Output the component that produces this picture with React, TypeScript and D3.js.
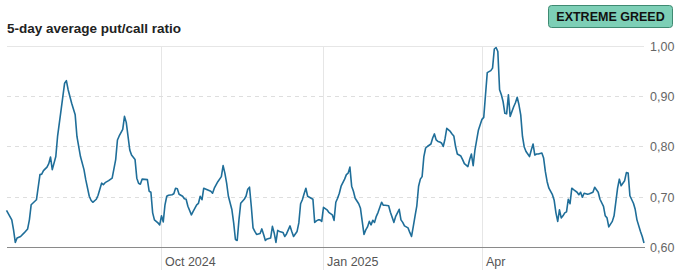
import React from "react";
import * as d3 from "d3";

// Days since 2024-07-01 (UTC) and 5-day average put/call ratio
const dayOffsets: number[] = [
  4, 7, 8, 9, 10, 12, 14, 16, 17, 18, 21, 23, 24, 25, 27, 28, 29, 30, 32, 33,
  35, 37, 38, 39, 41, 43, 44, 46, 48, 49, 51, 52, 53, 55, 56, 58, 59, 60, 62, 64,
  66, 67, 68, 70, 71, 72, 74, 75, 77, 78, 79, 80, 81, 84, 85, 86, 87, 88, 90, 91,
  92, 93, 94, 95, 96, 98, 99, 100, 101, 102, 104, 105, 106, 107, 109, 110, 112, 113, 114, 115,
  116, 118, 120, 121, 122, 124, 126, 127, 128, 129, 130, 132, 133, 134, 135, 136, 137, 139, 140, 141,
  142, 143, 144, 145, 146, 148, 149, 150, 151, 152, 154, 155, 156, 157, 158, 159, 161, 162, 163, 165,
  166, 167, 169, 170, 171, 172, 173, 174, 175, 177, 178, 179, 180, 181, 182, 183, 184, 186, 187, 189,
  190, 191, 192, 193, 194, 196, 197, 198, 199, 200, 201, 202, 204, 205, 206, 207, 208, 209, 210, 211,
  212, 213, 214, 215, 216, 217, 218, 219, 221, 222, 224, 225, 227, 228, 229, 230, 232, 233, 234, 235,
  236, 237, 238, 239, 240, 241, 242, 243, 245, 246, 247, 248, 249, 250, 251, 252, 253, 254, 256, 257,
  258, 259, 260, 262, 263, 264, 266, 267, 268, 269, 270, 271, 272, 274, 275, 276, 277, 279, 280, 281,
  282, 283, 284, 285, 286, 287, 288, 289, 290, 292, 293, 294, 295, 296, 297, 298, 299, 301, 302, 303,
  304, 305, 306, 308, 309, 310, 311, 312, 314, 315, 316, 317, 318, 319, 320, 321, 322, 323, 324, 325,
  326, 328, 329, 330, 331, 332, 334, 335, 337, 338, 340, 341, 343, 344, 345, 346, 348, 349, 351, 352,
  353, 355, 356, 357, 358, 360, 361, 362, 364, 365, 366,
];

const putCallRatio: number[] = [
  0.673, 0.654, 0.634, 0.609, 0.618, 0.621, 0.628, 0.636, 0.654, 0.684, 0.694, 0.744, 0.745, 0.752, 0.759, 0.766, 0.779, 0.754, 0.780, 0.820,
  0.873, 0.926, 0.931, 0.913, 0.886, 0.863, 0.820, 0.780, 0.754, 0.734, 0.701, 0.693, 0.689, 0.695, 0.703, 0.727, 0.724, 0.728, 0.732, 0.737,
  0.774, 0.813, 0.821, 0.834, 0.860, 0.848, 0.793, 0.783, 0.774, 0.737, 0.727, 0.725, 0.735, 0.734, 0.711, 0.709, 0.668, 0.654, 0.648, 0.644,
  0.662, 0.650, 0.684, 0.701, 0.703, 0.704, 0.706, 0.717, 0.716, 0.705, 0.701, 0.696, 0.695, 0.681, 0.664, 0.671, 0.684, 0.687, 0.701, 0.694,
  0.717, 0.714, 0.711, 0.707, 0.717, 0.730, 0.740, 0.762, 0.747, 0.727, 0.701, 0.674, 0.648, 0.615, 0.613, 0.654, 0.687, 0.695, 0.701, 0.715,
  0.719, 0.681, 0.638, 0.631, 0.625, 0.627, 0.636, 0.625, 0.613, 0.616, 0.618, 0.641, 0.628, 0.609, 0.633, 0.631, 0.629, 0.621, 0.626, 0.642,
  0.631, 0.621, 0.631, 0.648, 0.686, 0.694, 0.706, 0.717, 0.701, 0.697, 0.695, 0.649, 0.652, 0.654, 0.654, 0.651, 0.679, 0.674, 0.669, 0.664,
  0.653, 0.689, 0.697, 0.707, 0.721, 0.735, 0.744, 0.747, 0.759, 0.721, 0.711, 0.697, 0.686, 0.677, 0.651, 0.625, 0.634, 0.640, 0.651, 0.644,
  0.653, 0.649, 0.661, 0.669, 0.679, 0.689, 0.683, 0.683, 0.682, 0.669, 0.649, 0.661, 0.675, 0.654, 0.649, 0.642, 0.638, 0.629, 0.621, 0.641,
  0.662, 0.682, 0.721, 0.735, 0.740, 0.780, 0.797, 0.800, 0.805, 0.817, 0.825, 0.813, 0.810, 0.809, 0.807, 0.800, 0.815, 0.836, 0.830, 0.825,
  0.821, 0.800, 0.785, 0.781, 0.774, 0.766, 0.760, 0.774, 0.785, 0.762, 0.793, 0.813, 0.833, 0.854, 0.858, 0.903, 0.947, 0.951, 0.956, 0.994,
  0.997, 0.989, 0.913, 0.903, 0.889, 0.866, 0.865, 0.903, 0.860, 0.879, 0.887, 0.898, 0.883, 0.863, 0.820, 0.799, 0.790, 0.780, 0.793, 0.805,
  0.783, 0.785, 0.785, 0.787, 0.777, 0.750, 0.730, 0.717, 0.704, 0.693, 0.668, 0.651, 0.674, 0.658, 0.662, 0.668, 0.670, 0.695, 0.686, 0.717,
  0.714, 0.709, 0.704, 0.709, 0.699, 0.707, 0.705, 0.706, 0.709, 0.719, 0.709, 0.695, 0.681, 0.662, 0.658, 0.640, 0.651, 0.662, 0.717, 0.735,
  0.722, 0.732, 0.748, 0.747, 0.702, 0.687, 0.675, 0.654, 0.631, 0.621, 0.608,
];

const yTicks: number[] = [0.6, 0.7, 0.8, 0.9, 1.0];
const xTickDates: string[] = ["2024-10-01", "2025-01-01", "2025-04-01"];
const xTickLabels: string[] = ["Oct 2024", "Jan 2025", "Apr"];
const title = "5-day average put/call ratio";
const badgeLabel = "EXTREME GREED";

const W = 688;
const H = 273;
const FONT = "'Liberation Sans', Arial, Helvetica, sans-serif";

export default function App() {
  const base = Date.UTC(2024, 6, 1);
  const data = dayOffsets.map((d, i) => ({
    date: d3.utcDay.offset(new Date(base), d),
    value: putCallRatio[i],
  }));

  const x = d3
    .scaleUtc()
    .domain(d3.extent(data, (d) => d.date) as [Date, Date])
    .range([6.5, 644]);
  const y = d3.scaleLinear().domain([0.6, 1.0]).range([247, 46]);

  const line = d3
    .line<{ date: Date; value: number }>()
    .x((d) => x(d.date))
    .y((d) => y(d.value));

  const fmt = (v: number) => d3.format(".2f")(v).replace(".", ",");
  const left = 7;
  const right = 644;

  return (
    <svg
      width={W}
      height={H}
      style={{ position: "absolute", left: 0, top: 0, background: "#fff" }}
      fontFamily={FONT}
    >
      <text x={7} y={32.5} fontSize={13.5} fontWeight="bold" fill="#222">
        {title}
      </text>

      <rect x={548.5} y={5.5} width={124} height={22} rx={3} fill="#7dcfb6" stroke="#3f8a72" strokeWidth={1} />
      <text x={610.5} y={21} fontSize={12.5} fontWeight="bold" fill="#111" textAnchor="middle">
        {badgeLabel}
      </text>

      {/* vertical gridlines */}
      {xTickDates.map((s, i) => {
        const xx = Math.round(x(new Date(s + "T00:00:00Z"))) + 0.5;
        return (
          <g key={s}>
            <line x1={xx} x2={xx} y1={46} y2={270} stroke="#e6e6e6" strokeWidth={1} />
            <text x={xx + 3.5} y={266} fontSize={12.5} fill="#555">
              {xTickLabels[i]}
            </text>
          </g>
        );
      })}

      {/* horizontal gridlines */}
      {yTicks.map((t) => {
        const yy = Math.round(y(t)) + 0.5;
        const isBase = t === 0.6;
        const isTop = t === 1.0;
        return (
          <g key={t}>
            {!isBase && (
              <line
                x1={left}
                x2={right}
                y1={yy}
                y2={yy}
                stroke={isTop ? "#e6e6e6" : "#dedede"}
                strokeDasharray={isTop ? undefined : "4,4"}
                strokeWidth={1}
              />
            )}
            <text x={650} y={yy + 4.5} fontSize={12.5} fill="#666">
              {fmt(t)}
            </text>
          </g>
        );
      })}

      <path d={line(data) || ""} fill="none" stroke="#1f6e99" strokeWidth={1.6} strokeLinejoin="round" />

      <line x1={left} x2={right + 1} y1={247.5} y2={247.5} stroke="#8a8a8a" strokeWidth={1} />
    </svg>
  );
}
